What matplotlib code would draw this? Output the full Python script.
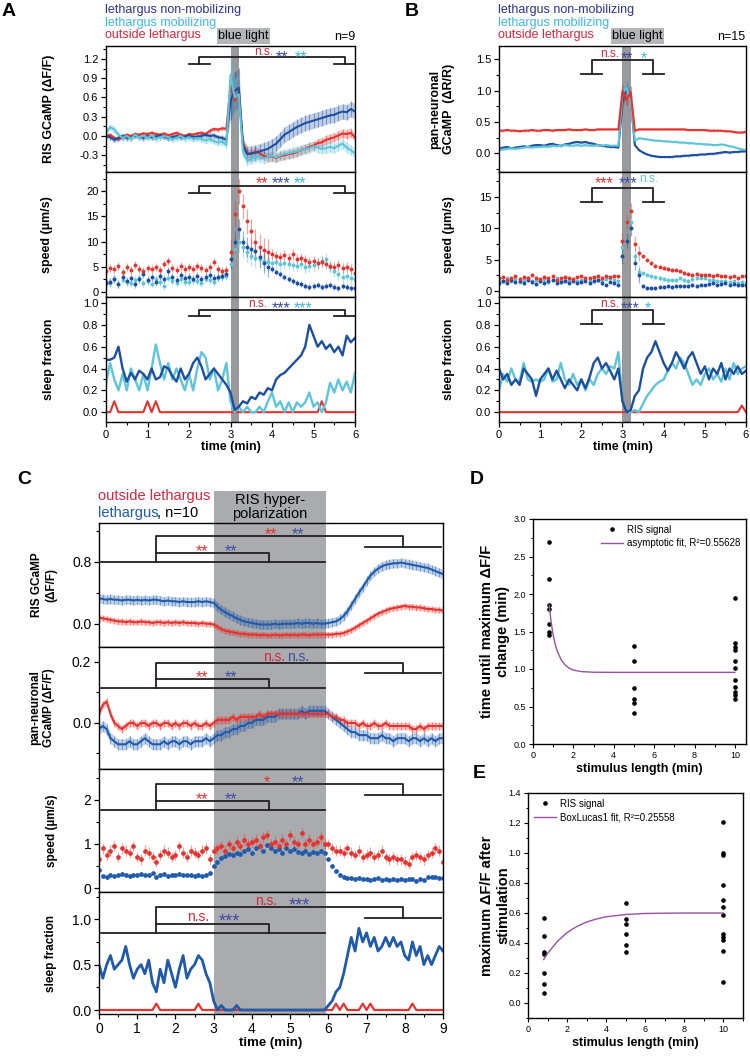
import matplotlib
import matplotlib.pyplot as plt
import matplotlib.transforms as mtransforms
from matplotlib.colors import to_rgba
from matplotlib.patches import Rectangle
from matplotlib.ticker import FormatStrFormatter, MultipleLocator
import numpy as np

matplotlib.rcParams.update({"font.family": ["Liberation Sans", "DejaVu Sans"], "axes.linewidth": 1.0})
NARROW = ["Liberation Sans Narrow", "Liberation Sans", "DejaVu Sans"]

# ---------------- data ----------------
time_AB = np.round(np.arange(0, 6.05, 0.1), 1)   # min, 61 samples
time_C = np.round(np.arange(0, 9.05, 0.1), 1)    # min, 91 samples

# A: RIS GCaMP (dF/F)
ris_A_out = [0.00, 0.02, -0.03, -0.05, -0.02, 0.02, 0.00, 0.03, 0.02, 0.04,
             0.03, 0.05, 0.03, 0.02, 0.04, 0.01, 0.03, 0.05, 0.02, 0.00,
             0.03, 0.02, 0.04, 0.05, 0.03, 0.08, 0.11, 0.10, 0.12, 0.11,
             0.78, 0.55, 0.68, -0.10, -0.27, -0.28, -0.24, -0.27, -0.31, -0.33,
             -0.32, -0.34, -0.31, -0.30, -0.28, -0.27, -0.25, -0.22, -0.20, -0.17,
             -0.15, -0.11, -0.10, -0.06, -0.04, -0.02, 0.01, 0.04, 0.03, 0.05,
             -0.02]
ris_A_nm = [0.00, -0.02, -0.06, -0.03, 0.00, -0.03, -0.02, 0.01, -0.01, -0.03,
            0.00, -0.02, -0.01, 0.01, -0.01, -0.03, -0.02, 0.00, -0.02, -0.01,
            0.01, -0.02, -0.01, 0.00, 0.02, 0.00, 0.01, -0.02, -0.03, -0.06,
            0.55, 0.70, 0.75, -0.15, -0.28, -0.27, -0.26, -0.24, -0.22, -0.20,
            -0.16, -0.12, -0.05, 0.02, 0.06, 0.10, 0.14, 0.17, 0.20, 0.22,
            0.24, 0.26, 0.28, 0.30, 0.32, 0.33, 0.36, 0.38, 0.37, 0.42,
            0.38]
ris_A_mob = [0.05, 0.14, 0.10, 0.02, -0.03, 0.00, -0.04, 0.02, -0.02, 0.00,
             -0.03, 0.01, -0.04, -0.02, 0.00, -0.02, -0.05, -0.03, 0.00, -0.04,
             -0.02, -0.04, -0.03, -0.05, -0.07, -0.05, -0.08, -0.10, -0.09, -0.14,
             0.95, 0.60, 0.65, -0.25, -0.38, -0.35, -0.33, -0.32, -0.35, -0.33,
             -0.31, -0.33, -0.30, -0.28, -0.27, -0.25, -0.24, -0.22, -0.20, -0.19,
             -0.16, -0.18, -0.20, -0.19, -0.17, -0.19, -0.15, -0.12, -0.18, -0.22,
             -0.27]
ris_A_out_err = [0.03] * 30 + [0.2] * 3 + [0.07] * 28
ris_A_nm_err = [0.04] * 30 + [0.3] * 3 + [0.12] * 28
ris_A_mob_err = [0.05] * 30 + [0.3] * 3 + [0.08] * 28

# A: speed (um/s)
spd_A_out = [4.2, 4.8, 4.5, 5.2, 4.0, 4.9, 4.4, 5.3, 4.6, 4.1,
             4.8, 4.5, 5.0, 4.3, 5.5, 6.2, 4.8, 4.4, 5.1, 4.6,
             5.0, 4.5, 5.2, 4.8, 4.3, 4.9, 6.0, 4.6, 4.2, 4.4,
             8.0, 15.5, 20.0, 17.0, 14.0, 12.0, 10.0, 9.0, 8.3, 8.0,
             7.6, 7.2, 7.0, 7.4, 6.8, 7.5, 6.5, 6.8, 6.4, 6.0,
             6.2, 5.8, 6.0, 5.5, 5.2, 5.0, 5.4, 4.8, 5.0, 4.6,
             3.8]
spd_A_nm = [1.8, 2.0, 2.6, 1.5, 3.0, 2.2, 2.8, 1.6, 2.5, 3.5,
            2.4, 3.0, 2.0, 3.2, 2.6, 4.2, 3.0, 2.4, 3.4, 2.8,
            3.0, 2.5, 3.2, 2.6, 3.0, 3.4, 2.8, 3.0, 3.2, 3.6,
            6.5, 10.0, 12.5, 10.0, 9.0, 8.5, 8.2, 7.0, 5.8, 5.0,
            4.6, 4.0, 3.5, 3.0, 2.5, 2.2, 1.8, 1.5, 1.2, 1.0,
            1.1, 1.3, 1.0, 1.2, 1.4, 1.0, 0.8, 1.2, 0.9, 0.7,
            0.8]
spd_A_mob = [2.2, 1.8, 2.5, 1.5, 2.4, 2.0, 1.7, 2.3, 2.8, 1.8,
             2.2, 1.6, 2.5, 2.0, 1.2, 2.8, 2.2, 1.8, 2.6, 2.0,
             1.9, 2.4, 2.2, 1.7, 2.6, 2.3, 2.0, 2.8, 3.0, 3.2,
             5.5, 8.5, 10.0, 9.0, 8.0, 7.2, 6.8, 6.5, 6.2, 6.0,
             5.8, 6.0, 5.5, 5.8, 5.6, 5.4, 5.2, 5.5, 5.0, 5.2,
             5.4, 5.8, 6.2, 6.5, 5.0, 4.2, 3.5, 3.0, 3.2, 2.8,
             2.5]
spd_A_out_err = [0.8] * 30 + [2.5] * 10 + [1.0] * 21
spd_A_nm_err = [0.8] * 30 + [2.0] * 10 + [0.6] * 21
spd_A_mob_err = [0.8] * 30 + [2.0] * 10 + [1.2] * 21

# A: sleep fraction
slp_A_nm = [0.48, 0.48, 0.50, 0.60, 0.40, 0.28, 0.36, 0.30, 0.38, 0.35,
            0.30, 0.40, 0.30, 0.32, 0.42, 0.40, 0.33, 0.28, 0.40, 0.30,
            0.35, 0.45, 0.50, 0.42, 0.30, 0.35, 0.40, 0.35, 0.30, 0.25,
            0.18, 0.02, 0.05, 0.10, 0.08, 0.14, 0.12, 0.18, 0.16, 0.22,
            0.20, 0.30, 0.34, 0.36, 0.40, 0.44, 0.48, 0.52, 0.60, 0.80,
            0.70, 0.60, 0.65, 0.58, 0.62, 0.55, 0.60, 0.52, 0.70, 0.64,
            0.68]
slp_A_mob = [0.27, 0.45, 0.30, 0.20, 0.35, 0.20, 0.40, 0.30, 0.20, 0.35,
             0.20, 0.40, 0.62, 0.45, 0.30, 0.45, 0.30, 0.40, 0.30, 0.20,
             0.35, 0.20, 0.40, 0.55, 0.50, 0.30, 0.40, 0.20, 0.30, 0.45,
             0.10, 0.00, 0.05, 0.00, 0.05, 0.00, 0.00, 0.05, 0.00, 0.10,
             0.18, 0.05, 0.10, 0.00, 0.09, 0.00, 0.09, 0.05, 0.09, 0.18,
             0.05, 0.09, 0.00, 0.09, 0.27, 0.18, 0.30, 0.20, 0.28, 0.18,
             0.36]
slp_A_out = [0, 0, 0.1, 0, 0, 0, 0, 0, 0, 0, 0.1, 0, 0.1] + [0.0] * 39 + [0.1] + [0.0] * 8

# B: pan-neuronal GCaMP (dR/R)
pan_B_out = [0.36, 0.36, 0.37, 0.36, 0.36, 0.35, 0.36, 0.36, 0.37, 0.36,
             0.36, 0.37, 0.37, 0.36, 0.37, 0.37, 0.37, 0.38, 0.37, 0.37,
             0.37, 0.38, 0.37, 0.37, 0.38, 0.38, 0.38, 0.38, 0.38, 0.38,
             1.00, 0.85, 0.97, 0.36, 0.38, 0.38, 0.38, 0.38, 0.38, 0.38,
             0.38, 0.38, 0.38, 0.38, 0.38, 0.38, 0.37, 0.37, 0.37, 0.37,
             0.37, 0.36, 0.36, 0.36, 0.36, 0.35, 0.35, 0.34, 0.33, 0.33,
             0.34]
pan_B_nm = [0.07, 0.09, 0.10, 0.08, 0.09, 0.10, 0.11, 0.10, 0.12, 0.13,
            0.13, 0.12, 0.14, 0.15, 0.13, 0.12, 0.14, 0.15, 0.17, 0.18,
            0.17, 0.18, 0.16, 0.15, 0.13, 0.12, 0.11, 0.10, 0.10, 0.09,
            0.80, 1.05, 0.85, 0.13, 0.05, 0.01, -0.02, -0.04, -0.05, -0.06,
            -0.06, -0.06, -0.06, -0.05, -0.05, -0.04, -0.04, -0.03, -0.03, -0.02,
            -0.02, -0.01, -0.01, 0.00, 0.01, 0.02, 0.01, 0.02, 0.02, 0.03,
            0.03]
pan_B_mob = [0.05, 0.06, 0.07, 0.08, 0.07, 0.08, 0.09, 0.10, 0.09, 0.10,
             0.10, 0.11, 0.10, 0.12, 0.11, 0.12, 0.13, 0.12, 0.12, 0.13,
             0.12, 0.13, 0.12, 0.12, 0.13, 0.12, 0.13, 0.12, 0.12, 0.12,
             0.95, 1.05, 0.80, 0.20, 0.24, 0.23, 0.22, 0.21, 0.20, 0.20,
             0.19, 0.19, 0.18, 0.18, 0.17, 0.17, 0.16, 0.16, 0.15, 0.15,
             0.14, 0.14, 0.13, 0.13, 0.14, 0.13, 0.11, 0.10, 0.08, 0.06,
             0.05]
pan_B_err = [0.015] * 30 + [0.1] * 3 + [0.015] * 28

# B: speed
spd_B_out = [2.0, 2.2, 1.8, 2.1, 2.3, 1.9, 2.2, 2.0, 2.5, 2.1,
             1.9, 2.2, 2.0, 2.3, 1.8, 2.1, 2.2, 2.0, 1.9, 2.2,
             2.3, 2.1, 2.0, 2.2, 2.4, 2.1, 2.3, 2.2, 2.4, 2.3,
             8.0, 11.0, 12.8, 7.5, 6.0, 5.5, 5.0, 4.4, 4.0, 3.8,
             3.6, 3.5, 3.3, 3.4, 3.1, 2.8, 2.7, 2.6, 2.7, 2.5,
             2.6, 2.5, 2.4, 2.5, 2.3, 2.4, 2.2, 2.3, 2.1, 2.3,
             2.4]
spd_B_nm = [1.3, 1.6, 1.2, 1.8, 1.4, 1.5, 1.2, 1.7, 1.4, 1.1,
            1.5, 1.3, 1.6, 1.8, 1.2, 1.4, 1.6, 1.3, 1.5, 1.2,
            1.4, 1.6, 1.3, 1.5, 1.7, 1.2, 1.0, 1.4, 1.2, 1.0,
            5.5, 8.0, 10.0, 4.5, 2.5, 0.8, 0.5, 0.4, 0.5, 0.6,
            0.6, 0.7, 0.6, 0.7, 0.8, 0.7, 0.8, 0.9, 0.8, 1.0,
            1.0, 1.1, 1.2, 1.0, 1.1, 1.2, 1.0, 1.1, 0.9, 1.0,
            1.0]
spd_B_mob = [1.8, 1.5, 2.0, 1.6, 1.9, 1.4, 1.7, 2.1, 1.5, 1.8,
             1.6, 1.9, 1.4, 1.7, 2.0, 1.5, 1.8, 1.6, 1.9, 1.5,
             1.7, 1.9, 1.6, 2.0, 1.8, 1.7, 1.9, 2.1, 1.8, 1.6,
             7.0, 11.0, 11.0, 5.5, 3.0, 2.8, 2.6, 2.4, 2.2, 2.0,
             1.9, 1.8, 1.7, 1.8, 2.0, 1.8, 1.6, 1.9, 2.1, 2.0,
             2.0, 1.8, 1.7, 1.6, 1.5, 1.6, 1.4, 1.5, 1.3, 1.4,
             1.3]
spd_B_err = [0.3] * 30 + [1.2] * 5 + [0.3] * 26

# B: sleep fraction
slp_B_nm = [0.40, 0.30, 0.35, 0.25, 0.30, 0.25, 0.40, 0.35, 0.30, 0.15,
            0.30, 0.35, 0.40, 0.30, 0.38, 0.30, 0.22, 0.30, 0.25, 0.20,
            0.30, 0.22, 0.32, 0.45, 0.50, 0.40, 0.45, 0.38, 0.30, 0.40,
            0.10, 0.00, 0.02, 0.15, 0.20, 0.40, 0.50, 0.55, 0.65, 0.55,
            0.45, 0.38, 0.45, 0.55, 0.48, 0.40, 0.50, 0.55, 0.45, 0.35,
            0.42, 0.30, 0.40, 0.35, 0.45, 0.30, 0.40, 0.35, 0.42, 0.35,
            0.38]
slp_B_mob = [0.20, 0.35, 0.28, 0.40, 0.30, 0.28, 0.45, 0.30, 0.28, 0.30,
             0.28, 0.30, 0.40, 0.28, 0.30, 0.45, 0.30, 0.25, 0.35, 0.25,
             0.30, 0.20, 0.30, 0.25, 0.35, 0.40, 0.35, 0.42, 0.40, 0.55,
             0.10, 0.00, 0.00, 0.02, 0.00, 0.08, 0.15, 0.20, 0.25, 0.28,
             0.30, 0.38, 0.45, 0.40, 0.50, 0.45, 0.35, 0.25, 0.30, 0.25,
             0.35, 0.40, 0.30, 0.35, 0.28, 0.40, 0.30, 0.45, 0.35, 0.40,
             0.42]
slp_B_out = [0.0] * 59 + [0.06, 0.0]

# C: RIS GCaMP (dF/F)
ris_C_let = [0.33, 0.32, 0.31, 0.32, 0.31, 0.31, 0.30, 0.31, 0.31, 0.30,
             0.31, 0.30, 0.31, 0.30, 0.31, 0.31, 0.30, 0.29, 0.30, 0.29,
             0.29, 0.28, 0.29, 0.28, 0.28, 0.28, 0.29, 0.28, 0.29, 0.28,
             0.27, 0.22, 0.18, 0.15, 0.12, 0.10, 0.07, 0.05, 0.03, 0.02,
             0.01, 0.00, -0.01, -0.01, -0.01, -0.01, 0.00, -0.01, 0.00, 0.00,
             0.00, 0.00, 0.01, 0.00, 0.01, 0.01, 0.00, 0.01, 0.00, 0.00,
             0.01, 0.02, 0.03, 0.06, 0.10, 0.16, 0.24, 0.32, 0.40, 0.47,
             0.55, 0.62, 0.67, 0.71, 0.74, 0.76, 0.77, 0.78, 0.78, 0.79,
             0.78, 0.77, 0.76, 0.75, 0.74, 0.73, 0.72, 0.70, 0.68, 0.66,
             0.64]
ris_C_out = [0.08, 0.07, 0.06, 0.05, 0.04, 0.03, 0.03, 0.02, 0.03, 0.02,
             0.02, 0.03, 0.02, 0.02, 0.01, 0.02, 0.02, 0.01, 0.02, 0.01,
             0.02, 0.01, 0.02, 0.01, 0.01, 0.01, 0.00, 0.01, 0.00, 0.00,
             -0.01, -0.04, -0.07, -0.09, -0.10, -0.11, -0.12, -0.13, -0.13, -0.14,
             -0.14, -0.14, -0.15, -0.14, -0.15, -0.15, -0.14, -0.15, -0.15, -0.14,
             -0.15, -0.14, -0.15, -0.14, -0.14, -0.15, -0.14, -0.14, -0.14, -0.14,
             -0.14, -0.14, -0.13, -0.13, -0.12, -0.10, -0.08, -0.05, -0.02, 0.01,
             0.04, 0.07, 0.10, 0.13, 0.15, 0.17, 0.19, 0.20, 0.21, 0.22,
             0.23, 0.22, 0.22, 0.21, 0.21, 0.20, 0.19, 0.19, 0.18, 0.18,
             0.17]
ris_C_let_err = [0.06] * 91
ris_C_out_err = [0.04] * 91

# C: pan-neuronal GCaMP (dF/F)
pan_C_out = [0.03, 0.06, 0.07, 0.03, 0.00, -0.01, -0.02, -0.01, 0.00, 0.00,
             -0.01, 0.00, 0.00, -0.01, 0.00, 0.00, -0.01, 0.00, 0.00, -0.01,
             0.00, -0.01, 0.00, 0.00, -0.01, 0.00, -0.01, -0.01, 0.00, -0.01,
             0.00, 0.01, 0.01, 0.01, 0.01, 0.02, 0.01, 0.02, 0.02, 0.02,
             0.02, 0.02, 0.03, 0.02, 0.03, 0.03, 0.03, 0.03, 0.03, 0.03,
             0.03, 0.03, 0.03, 0.03, 0.03, 0.03, 0.03, 0.03, 0.03, 0.03,
             0.03, 0.02, 0.02, 0.01, 0.01, 0.00, 0.00, 0.00, -0.01, 0.00,
             -0.01, -0.01, 0.00, -0.01, -0.01, 0.00, -0.01, -0.01, -0.01, -0.01,
             -0.01, -0.01, -0.02, -0.02, -0.01, -0.02, -0.01, -0.01, -0.01, -0.01,
             -0.01]
pan_C_let = [-0.02, -0.01, -0.02, -0.05, -0.06, -0.07, -0.07, -0.07, -0.06, -0.07,
             -0.07, -0.06, -0.05, -0.06, -0.07, -0.07, -0.07, -0.06, -0.07, -0.06,
             -0.06, -0.07, -0.06, -0.06, -0.07, -0.06, -0.06, -0.06, -0.05, -0.06,
             -0.05, -0.04, -0.04, -0.03, -0.03, -0.02, -0.02, -0.01, -0.01, 0.00,
             0.00, 0.01, 0.01, 0.01, 0.02, 0.02, 0.02, 0.03, 0.03, 0.03,
             0.03, 0.03, 0.03, 0.04, 0.03, 0.04, 0.04, 0.04, 0.04, 0.04,
             0.03, 0.02, 0.01, 0.00, -0.01, -0.02, -0.03, -0.03, -0.04, -0.04,
             -0.04, -0.05, -0.05, -0.05, -0.04, -0.05, -0.05, -0.06, -0.05, -0.05,
             -0.05, -0.06, -0.05, -0.05, -0.06, -0.05, -0.06, -0.05, -0.06, -0.05,
             -0.05]
pan_C_out_err = [0.012] * 91
pan_C_let_err = [0.018] * 91

# C: speed
spd_C_out = [0.65, 0.90, 0.75, 0.85, 0.95, 0.70, 0.90, 0.85, 0.80, 0.95,
             0.70, 0.65, 0.85, 0.80, 0.70, 0.60, 0.75, 0.85, 0.80, 0.70,
             0.75, 0.95, 0.80, 0.70, 0.85, 0.80, 0.75, 0.85, 0.90, 0.65,
             0.85, 0.90, 0.95, 0.85, 1.00, 0.90, 1.05, 0.95, 1.10, 1.00,
             1.05, 1.10, 0.95, 1.15, 1.20, 1.00, 1.05, 0.95, 1.10, 1.00,
             1.20, 1.05, 1.00, 1.25, 1.00, 1.10, 1.00, 1.05, 1.15, 1.00,
             1.00, 0.90, 0.85, 0.85, 0.80, 0.90, 0.80, 0.75, 0.85, 0.70,
             0.75, 0.80, 0.70, 0.75, 0.85, 0.70, 0.65, 0.70, 0.65, 0.65,
             0.60, 0.55, 0.70, 0.75, 0.70, 0.65, 0.75, 0.80, 0.90, 0.85,
             0.60]
spd_C_let = [0.40, 0.28, 0.25, 0.30, 0.28, 0.30, 0.32, 0.30, 0.28, 0.30,
             0.30, 0.32, 0.29, 0.30, 0.33, 0.25, 0.30, 0.31, 0.28, 0.30,
             0.30, 0.32, 0.30, 0.29, 0.30, 0.28, 0.30, 0.27, 0.30, 0.35,
             0.50, 0.60, 0.68, 0.72, 0.78, 0.75, 0.80, 0.78, 0.85, 0.88,
             0.80, 0.90, 0.95, 0.85, 0.98, 0.90, 0.85, 0.88, 0.80, 0.90,
             0.85, 0.88, 0.82, 0.80, 0.85, 0.78, 0.82, 0.80, 0.85, 0.80,
             0.65, 0.50, 0.38, 0.30, 0.25, 0.23, 0.22, 0.20, 0.22, 0.20,
             0.21, 0.19, 0.20, 0.22, 0.18, 0.20, 0.19, 0.21, 0.18, 0.20,
             0.19, 0.21, 0.20, 0.17, 0.20, 0.18, 0.24, 0.26, 0.25, 0.22,
             0.22]
spd_C_out_err = [0.12] * 91
spd_C_let_err = [0.04] * 91

# C: sleep fraction
slp_C_let = [0.50, 0.35, 0.50, 0.60, 0.45, 0.50, 0.55, 0.70, 0.50, 0.35,
             0.45, 0.50, 0.40, 0.55, 0.30, 0.20, 0.45, 0.30, 0.55, 0.40,
             0.25, 0.45, 0.60, 0.35, 0.45, 0.50, 0.60, 0.55, 0.40, 0.30,
             0.10, 0.00, 0.05, 0.00, 0.00, 0.00, 0.05, 0.00, 0.00, 0.00,
             0.00, 0.00, 0.00, 0.00, 0.00, 0.00, 0.00, 0.00, 0.00, 0.00,
             0.00, 0.00, 0.00, 0.00, 0.00, 0.00, 0.00, 0.00, 0.00, 0.00,
             0.05, 0.10, 0.20, 0.25, 0.40, 0.60, 0.80, 0.65, 0.90, 0.75,
             0.85, 0.70, 0.80, 0.65, 0.70, 0.80, 0.70, 0.80, 0.70, 0.75,
             0.60, 0.55, 0.75, 0.60, 0.70, 0.50, 0.60, 0.50, 0.60, 0.70,
             0.65]
slp_C_out = ([0.0] * 15 + [0.07] + [0.0] * 10 + [0.07] + [0.0] * 35 + [0.07, 0.0, 0.07]
             + [0.0] * 4 + [0.07, 0.0, 0.07] + [0.0] * 10 + [0.07] + [0.0] * 8)

# D: time until maximum dF/F change vs stimulus length
d_x = [0.8] * 7 + [5] * 6 + [10] * 11
d_y = [2.70, 2.20, 1.85, 1.80, 1.60, 1.50, 1.45,
       1.31, 1.11, 0.75, 0.60, 0.55, 0.41,
       1.95, 1.35, 1.30, 1.25, 1.11, 1.01, 0.85, 0.76, 0.70, 0.65, 0.60]
d_fit_x = [0.8, 0.9, 1.0, 1.1, 1.2, 1.4, 1.6, 1.8, 2.0, 2.4, 3.0, 4.0, 6.0, 8.0, 10.0]
d_fit_y = [1.85, 1.62, 1.45, 1.33, 1.24, 1.12, 1.05, 1.01, 0.985, 0.965, 0.957, 0.955, 0.955, 0.955, 0.955]

# E: maximum dF/F after stimulation vs stimulus length
e_x = [0.8] * 7 + [5] * 6 + [10] * 12
e_y = [0.57, 0.45, 0.34, 0.33, 0.20, 0.13, 0.07,
       0.67, 0.56, 0.53, 0.46, 0.39, 0.34,
       1.21, 1.00, 0.99, 0.79, 0.69, 0.64, 0.59, 0.46, 0.44, 0.42, 0.35, 0.14]
e_fit_x = [0.8, 1.0, 1.5, 2.0, 2.5, 3.0, 3.5, 4.0, 5.0, 6.0, 8.0, 10.0]
e_fit_y = [0.29, 0.33, 0.41, 0.47, 0.51, 0.54, 0.56, 0.575, 0.59, 0.597, 0.60, 0.60]

# ---------------- styling ----------------
NAVY = "#1d4f9f"
CYAN = "#5ec4d8"
RED = "#e5332f"
CBLUE = "#1f5aab"
T_NAVY = "#2e3192"
T_CYAN = "#3cb8e4"
T_RED = "#d7263d"
S_NAVY = "#3d4ca0"
BAND_AB = "#97999c"
BAND_C = "#a9abae"
FIT = "#9552a0"
INK = "#231f20"

W, H = 750, 1058
fig = plt.figure(figsize=(7.5, 10.58), dpi=100)


def box(l, t, r, b):
    return [l / W, 1 - b / H, (r - l) / W, (b - t) / H]


def ftext(x, y, s, **kw):
    fig.text(x / W, 1 - y / H, s, **kw)


def style(ax, xlim, ylim, yticks, yminor, yfmt, fs, xticks, xminor, bottom):
    ax.set_xlim(xlim)
    ax.set_ylim(ylim)
    ax.set_yticks(yticks)
    ax.yaxis.set_major_formatter(FormatStrFormatter(yfmt))
    ax.yaxis.set_minor_locator(MultipleLocator(yminor))
    ax.set_xticks(xticks)
    ax.xaxis.set_minor_locator(MultipleLocator(xminor))
    ax.tick_params(which="major", length=3.5, width=0.9, labelsize=fs, pad=2)
    ax.tick_params(which="minor", length=2, width=0.8)
    if not bottom:
        ax.tick_params(axis="x", which="both", length=0, labelbottom=False)


def band_trace(ax, t, y, e, color, lw=1.5, z=2):
    y = np.asarray(y, float)
    e = np.asarray(e, float)
    ax.fill_between(t, y - e, y + e, color=color, alpha=0.28, lw=0, zorder=z)
    ax.vlines(t, y - e, y + e, color=color, alpha=0.45, lw=0.8, zorder=z)
    ax.plot(t, y, color=color, lw=lw, zorder=z + 0.1)


def dot_trace(ax, t, y, e, color, ms=2.8, z=2):
    ax.errorbar(t, y, yerr=e, fmt="o", ms=ms, mew=0, color=color,
                ecolor=to_rgba(color, 0.45), elinewidth=0.9, capsize=0, zorder=z)


def bracket_ab(ax, left, right, y_lo, y_hi):
    kw = dict(color=INK, lw=1.3, clip_on=False, zorder=4)
    lm, rm = np.mean(left), np.mean(right)
    ax.plot(left, [y_lo, y_lo], **kw)
    ax.plot(right, [y_lo, y_lo], **kw)
    ax.plot([lm, lm, rm, rm], [y_lo, y_hi, y_hi, y_lo], **kw)


def bracket_c(ax, y_base, y_in, y_long, y_right):
    kw = dict(color=INK, lw=1.3, clip_on=False, zorder=4)
    ax.plot([0.05, 5.92], [y_base, y_base], **kw)
    ax.plot([1.5, 1.5, 4.45, 4.45], [y_base, y_in, y_in, y_base], **kw)
    ax.plot([1.5, 1.5, 7.95, 7.95], [y_in, y_long, y_long, y_right], **kw)
    ax.plot([6.97, 8.94], [y_right, y_right], **kw)


def stars(ax, y, items, fs=8.5):
    down = mtransforms.offset_copy(ax.transData, fig=fig, y=-3.5, units="points")
    for x, s, c in items:
        if s.startswith("*"):
            ax.text(x, y, s, color=c, ha="center", va="center", fontsize=fs + 3,
                    transform=down, zorder=5)
        else:
            ax.text(x, y, s, color=c, ha="center", va="center", fontsize=fs, zorder=5)


def ylab(ax, text, xcoord, fs=9):
    ax.set_ylabel(text, fontsize=fs, fontweight="bold", multialignment="center")
    ax.yaxis.set_label_coords(xcoord, 0.5)


# ---------------- panels A and B ----------------
for col in ("A", "B"):
    if col == "A":
        l, r = 106, 355
    else:
        l, r = 499, 746
    axs = [fig.add_axes(box(l, 46, r, 172)), fig.add_axes(box(l, 172, r, 297)),
           fig.add_axes(box(l, 297, r, 422))]
    for ax in axs:
        ax.axvspan(3.0, 3.2, color=BAND_AB, lw=0, zorder=0)
    a0, a1, a2 = axs
    if col == "A":
        band_trace(a0, time_AB, ris_A_out, ris_A_out_err, RED)
        band_trace(a0, time_AB, ris_A_nm, ris_A_nm_err, NAVY)
        band_trace(a0, time_AB, ris_A_mob, ris_A_mob_err, CYAN)
        dot_trace(a1, time_AB, spd_A_mob, spd_A_mob_err, CYAN)
        dot_trace(a1, time_AB, spd_A_nm, spd_A_nm_err, NAVY)
        dot_trace(a1, time_AB, spd_A_out, spd_A_out_err, RED)
        a2.plot(time_AB, slp_A_out, color=RED, lw=1.5)
        a2.plot(time_AB, slp_A_mob, color=CYAN, lw=1.7)
        a2.plot(time_AB, slp_A_nm, color=NAVY, lw=1.7)
        style(a0, (0, 6), (-0.56, 1.4), [-0.3, 0, 0.3, 0.6, 0.9, 1.2], 0.15, "%.1f", 8,
              range(7), 0.5, False)
        style(a1, (0, 6), (-1, 23.8), [0, 5, 10, 15, 20], 2.5, "%d", 8, range(7), 0.5, False)
        style(a2, (0, 6), (-0.09, 1.055), [0, 0.2, 0.4, 0.6, 0.8, 1.0], 0.1, "%.1f", 8,
              range(7), 0.5, True)
        ylab(a0, "RIS GCaMP (ΔF/F)", -0.205)
        ylab(a1, "speed (µm/s)", -0.213)
        ylab(a2, "sleep fraction", -0.205)
        L, R = (2.0, 2.5), (5.5, 6.0)
        bracket_ab(a0, L, R, 1.12, 1.23)
        bracket_ab(a1, L, R, 19.7, 21.06)
        bracket_ab(a2, L, R, 0.88, 0.936)
        stars(a0, 1.30, [(3.8, "n.s.", T_RED), (4.25, "**", S_NAVY), (4.7, "**", T_CYAN)])
        stars(a1, 22.4, [(3.75, "**", RED), (4.22, "***", S_NAVY), (4.68, "**", T_CYAN)])
        stars(a2, 0.99, [(3.65, "n.s.", T_RED), (4.22, "***", S_NAVY), (4.75, "***", T_CYAN)])
    else:
        band_trace(a0, time_AB, pan_B_nm, pan_B_err, NAVY)
        band_trace(a0, time_AB, pan_B_mob, pan_B_err, CYAN)
        band_trace(a0, time_AB, pan_B_out, pan_B_err, RED)
        dot_trace(a1, time_AB, spd_B_mob, spd_B_err, CYAN)
        dot_trace(a1, time_AB, spd_B_nm, spd_B_err, NAVY)
        dot_trace(a1, time_AB, spd_B_out, spd_B_err, RED)
        a2.plot(time_AB, slp_B_out, color=RED, lw=1.5)
        a2.plot(time_AB, slp_B_mob, color=CYAN, lw=1.7)
        a2.plot(time_AB, slp_B_nm, color=NAVY, lw=1.7)
        style(a0, (0, 6), (-0.30, 1.71), [0, 0.5, 1.0, 1.5], 0.25, "%.1f", 8, range(7), 0.5, False)
        style(a1, (0, 6), (-1.0, 19.0), [0, 5, 10, 15], 2.5, "%d", 8, range(7), 0.5, False)
        style(a2, (0, 6), (-0.09, 1.055), [0, 0.2, 0.4, 0.6, 0.8, 1.0], 0.1, "%.1f", 8,
              range(7), 0.5, True)
        ylab(a0, "pan-neuronal\nGCaMP  (ΔR/R)", -0.178)
        ylab(a1, "speed (µm/s)", -0.18)
        ylab(a2, "sleep fraction", -0.178)
        L, R = (2.0, 2.5), (3.5, 4.0)
        bracket_ab(a0, L, R, 1.26, 1.48)
        bracket_ab(a1, L, R, 14.25, 16.5)
        bracket_ab(a2, L, R, 0.805, 0.936)
        stars(a0, 1.59, [(2.7, "n.s.", T_RED), (3.1, "**", S_NAVY), (3.52, "*", T_CYAN)])
        stars(a1, 17.85, [(2.56, "***", RED), (3.13, "***", S_NAVY), (3.64, "n.s.", CYAN)])
        stars(a2, 0.99, [(2.7, "n.s.", T_RED), (3.19, "***", S_NAVY), (3.62, "*", T_CYAN)])
    a2.set_xlabel("time (min)", fontsize=9, fontweight="bold", labelpad=1)

# legends above A and B
for x0, right, n in ((105, 355, "n=9"), (498, 745, "n=15")):
    ftext(x0, 10, "lethargus non-mobilizing", color=T_NAVY, fontsize=9, va="center")
    ftext(x0, 23, "lethargus mobilizing", color=T_CYAN, fontsize=9, va="center")
    ftext(x0, 35, "outside lethargus", color=T_RED, fontsize=9, va="center")
    ftext(right, 37, n, fontsize=9, ha="right", va="center")
ftext(243.5, 36, "blue light", fontsize=9, ha="center", va="center",
      bbox=dict(facecolor="#b3b5b8", edgecolor="none", pad=1.2))
ftext(637.5, 36, "blue light", fontsize=9, ha="center", va="center",
      bbox=dict(facecolor="#b3b5b8", edgecolor="none", pad=1.2))

# ---------------- panel C ----------------
cy = [(523, 647), (647, 769), (769, 892), (892, 1014)]
c0, c1, c2, c3 = [fig.add_axes(box(99, t, 443, b)) for t, b in cy]
for ax in (c0, c1, c2, c3):
    ax.axvspan(3.0, 5.95, color=BAND_C, lw=0, zorder=0)
band_trace(c0, time_C, ris_C_out, ris_C_out_err, RED)
band_trace(c0, time_C, ris_C_let, ris_C_let_err, CBLUE)
band_trace(c1, time_C, pan_C_let, pan_C_let_err, CBLUE)
band_trace(c1, time_C, pan_C_out, pan_C_out_err, RED)
dot_trace(c2, time_C, spd_C_let, spd_C_let_err, CBLUE, ms=3.4)
dot_trace(c2, time_C, spd_C_out, spd_C_out_err, RED, ms=3.4)
c3.plot(time_C, slp_C_out, color=RED, lw=1.6)
c3.plot(time_C, slp_C_let, color=CBLUE, lw=2.0)
style(c0, (0, 9), (-0.30, 1.30), [0, 0.8], 0.4, "%.1f", 10, range(10), 0.5, False)
style(c1, (0, 9), (-0.151, 0.249), [0, 0.2], 0.1, "%.1f", 10, range(10), 0.5, False)
style(c2, (0, 9), (-0.09, 2.70), [0, 1, 2], 0.5, "%d", 10, range(10), 0.5, False)
style(c3, (0, 9), (-0.044, 1.30), [0, 0.5, 1.0], 0.25, "%.1f", 10, range(10), 0.5, True)
ylab(c0, "RIS GCaMP\n(ΔF/F)", -0.122, fs=8.5)
ylab(c1, "pan-neuronal\nGCaMP (ΔF/F)", -0.128, fs=8.5)
ylab(c2, "speed (µm/s)", -0.119, fs=8.5)
ylab(c3, "sleep fraction", -0.122, fs=8.5)
c3.set_xlabel("time (min)", fontsize=9.5, fontweight="bold", labelpad=1)
bracket_c(c0, 0.796, 0.91, 1.135, 0.985)
bracket_c(c1, 0.114, 0.143, 0.198, 0.164)
bracket_c(c2, 1.77, 1.98, 2.36, 2.11)
bracket_c(c3, 0.853, 0.952, 1.135, 1.015)
stars(c0, 0.99, [(2.7, "**", RED), (3.46, "**", S_NAVY)])
stars(c0, 1.21, [(4.5, "**", RED), (5.2, "**", S_NAVY)])
stars(c1, 0.163, [(2.7, "**", RED), (3.46, "**", S_NAVY)])
stars(c1, 0.217, [(4.57, "n.s.", T_RED), (5.2, "n.s.", S_NAVY)], fs=10)
stars(c2, 2.11, [(2.7, "**", RED), (3.46, "**", S_NAVY)])
stars(c2, 2.49, [(4.4, "*", RED), (5.2, "**", S_NAVY)])
stars(c3, 1.02, [(2.6, "n.s.", T_RED), (3.4, "***", S_NAVY)], fs=10)
stars(c3, 1.20, [(4.36, "n.s.", T_RED), (5.24, "***", S_NAVY)], fs=10)

blend = mtransforms.blended_transform_factory(c0.transData, c0.transAxes)
c0.add_patch(Rectangle((3.0, 1.0), 2.95, 32 / 124, transform=blend, clip_on=False,
                       facecolor=BAND_C, edgecolor="none", zorder=0))
c0.text(4.475, 1 + 16 / 124, "RIS hyper-\npolarization", transform=blend, ha="center",
        va="center", fontsize=10.5, linespacing=1.05)
ftext(98, 496, "outside lethargus", color=T_RED, fontsize=10.5, va="center")
ftext(98, 513, "lethargus", color=CBLUE, fontsize=10.5, va="center")
ftext(157, 513, ", n=10", color="black", fontsize=10.5, va="center")

# ---------------- panels D and E ----------------
axD = fig.add_axes(box(533, 519, 746, 744))
axE = fig.add_axes(box(528, 793, 743, 1018))
axD.plot(d_x, d_y, "o", ms=2.3, color="black", label="RIS signal")
axD.plot(d_fit_x, d_fit_y, color=FIT, lw=1.0, label="asymptotic fit, R²=0.55628")
axE.plot(e_x, e_y, "o", ms=2.3, color="black", label="RIS signal")
axE.plot(e_fit_x, e_fit_y, color=FIT, lw=1.0, label="BoxLucas1 fit, R²=0.25558")
for ax in (axD, axE):
    ax.set_xticks(range(0, 11, 2))
    ax.xaxis.set_minor_locator(MultipleLocator(1))
    ax.tick_params(which="major", length=3, width=0.8, labelsize=6.5, pad=2)
    ax.tick_params(which="minor", length=1.8, width=0.7)
    for lab in ax.get_xticklabels() + ax.get_yticklabels():
        lab.set_family(NARROW)
    ax.set_xlabel("stimulus length (min)", fontsize=9, fontweight="bold", labelpad=2)
axD.set_xlim(0, 10.55)
axD.set_ylim(0, 3.0)
axD.set_yticks(np.round(np.arange(0, 3.01, 0.5), 1))
axD.yaxis.set_major_formatter(FormatStrFormatter("%.1f"))
axD.yaxis.set_minor_locator(MultipleLocator(0.25))
axE.set_xlim(0, 11)
axE.set_ylim(-0.1, 1.4)
axE.set_yticks(np.round(np.arange(0, 1.41, 0.2), 1))
axE.yaxis.set_major_formatter(FormatStrFormatter("%.1f"))
axE.yaxis.set_minor_locator(MultipleLocator(0.1))
for ax in (axD, axE):
    for lab in ax.get_xticklabels() + ax.get_yticklabels():
        lab.set_family(NARROW)
ylab(axD, "time until maximum ΔF/F\nchange (min)", -0.108, fs=10.5)
ylab(axE, "maximum ΔF/F after\nstimulation", -0.084, fs=10.5)
axD.legend(loc="upper right", frameon=False, handlelength=2.3, handletextpad=0.4,
           borderaxespad=0.2, labelspacing=0.35, prop={"family": NARROW, "size": 7})
axE.legend(loc="upper left", frameon=False, handlelength=2.3, handletextpad=0.4,
           borderaxespad=0.2, labelspacing=0.35, prop={"family": NARROW, "size": 7})

# panel letters
for x, y, s in ((9, 12, "A"), (412, 12, "B"), (24, 479, "C"), (477, 479, "D"), (479, 774, "E")):
    ftext(x, y, s, fontsize=14, fontweight="bold", ha="center", va="center")

fig.savefig("out.png", dpi=100)
